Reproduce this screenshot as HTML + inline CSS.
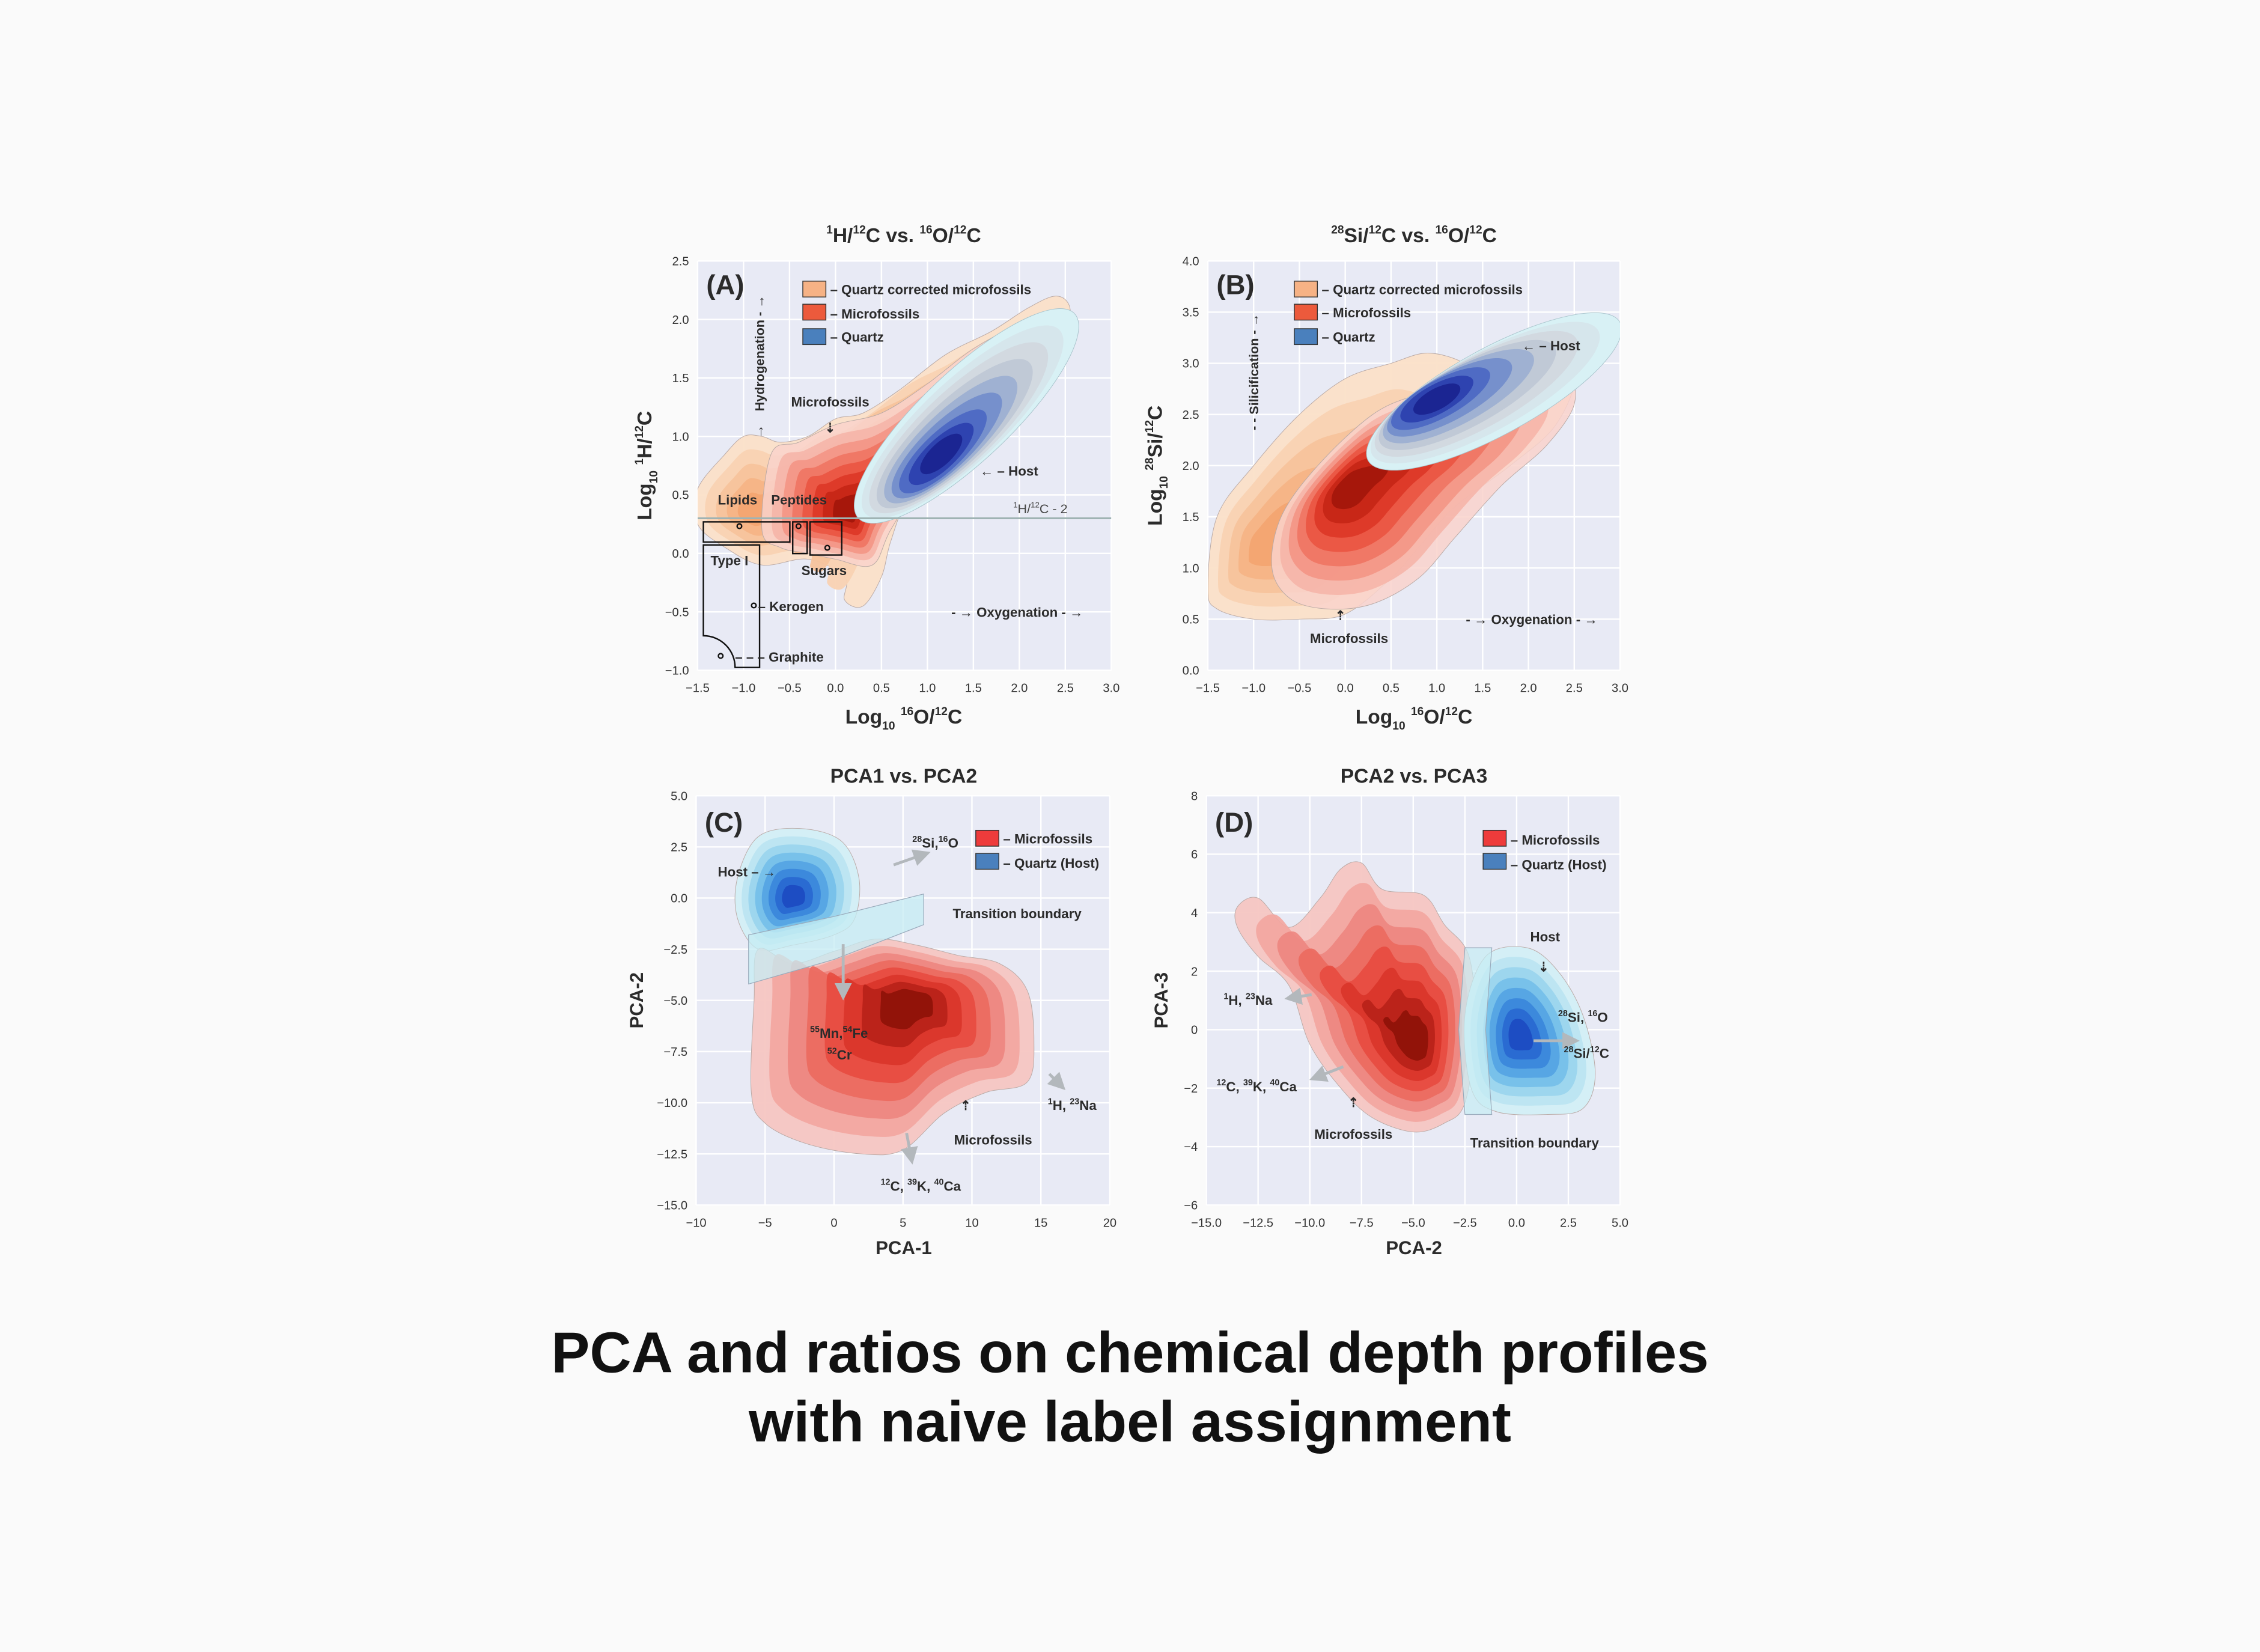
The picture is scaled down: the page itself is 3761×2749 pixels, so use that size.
<!DOCTYPE html>
<html><head><meta charset="utf-8">
<style>
html,body{margin:0;padding:0;background:#fafafa;}
svg{display:block;font-family:"Liberation Sans",Arial,sans-serif;}
.tk{font-size:8.4px;fill:#333;}
.b{font-weight:bold;fill:#2b2b2b;}
</style></head>
<body>
<svg id="fig" width="3761" height="2749" viewBox="0 0 1568 1146" xmlns="http://www.w3.org/2000/svg">
<defs><marker id="ah" markerWidth="6" markerHeight="6" refX="3" refY="3" orient="auto"><path d="M0,0 L6,3 L0,6 Z" fill="#b3b8bc"/></marker></defs>
<rect width="1568" height="1146" fill="#fafafa"/>
<g id="layer"></g>
<g id="annot"></g>
<text x="784" y="952" text-anchor="middle" style="font-size:40px;font-weight:bold;fill:#111">PCA and ratios on chemical depth profiles</text>
<text x="784" y="1000" text-anchor="middle" style="font-size:40px;font-weight:bold;fill:#111">with naive label assignment</text>
</svg>
<script>
// ---------- data ----------
const xTicksA = [-1.5,-1.0,-0.5,0.0,0.5,1.0,1.5,2.0,2.5,3.0];
const yTicksA = [-1.0,-0.5,0.0,0.5,1.0,1.5,2.0,2.5];
const xTicksB = [-1.5,-1.0,-0.5,0.0,0.5,1.0,1.5,2.0,2.5,3.0];
const yTicksB = [0.0,0.5,1.0,1.5,2.0,2.5,3.0,3.5,4.0];
const xTicksC = [-10,-5,0,5,10,15,20];
const yTicksC = [-15.0,-12.5,-10.0,-7.5,-5.0,-2.5,0.0,2.5,5.0];
const xTicksD = [-15.0,-12.5,-10.0,-7.5,-5.0,-2.5,0.0,2.5,5.0];
const yTicksD = [-6,-4,-2,0,2,4,6,8];

const aQcX = [-1.5,-1.2,-1.0,-0.8,-0.6,-0.3,0.0,0.3,0.7,1.2,1.7,2.1,2.4,2.55,2.5,2.1,1.6,1.2,0.8,0.6,0.5,0.3,0.1,0.1,-0.3,-0.8,-1.2,-1.5];
const aQcY = [0.55,0.85,1.0,1.0,0.95,1.0,1.15,1.2,1.4,1.7,1.9,2.1,2.2,2.1,1.85,1.6,1.3,0.9,0.5,0.1,-0.2,-0.45,-0.4,-0.2,-0.05,-0.1,0.05,0.25];
const aQcPeak = [-0.9,0.35];
const aMfX = [-0.8,-0.7,-0.4,0.0,0.5,1.0,1.5,2.0,2.3,2.2,1.6,1.0,0.6,0.4,0.0,-0.3,-0.6];
const aMfY = [0.2,0.85,0.95,1.1,1.2,1.45,1.75,1.95,1.95,1.7,1.3,0.7,0.2,-0.1,-0.05,0.0,0.05];
const aMfPeak = [0.15,0.35];
const aQzLow = [0.25,0.3], aQzHigh = [2.6,2.05], aQzPeak = [1.15,0.85];

const bQcX = [-1.5,-1.4,-1.0,-0.5,0.0,0.5,0.9,1.3,1.5,2.0,2.5,2.3,1.8,1.2,0.8,0.5,0.0,-0.5,-1.0,-1.4];
const bQcY = [0.8,1.5,2.0,2.5,2.85,3.0,3.1,3.0,2.8,2.85,2.9,2.4,2.0,1.6,1.2,0.9,0.55,0.5,0.5,0.6];
const bQcPeak = [-0.9,1.2];
const bMfX = [-0.8,-0.7,-0.3,0.3,0.8,1.2,1.8,2.4,2.5,2.2,1.7,1.2,0.8,0.3,-0.2,-0.6];
const bMfY = [1.0,1.5,2.0,2.5,2.7,2.8,2.9,2.9,2.6,2.2,1.8,1.3,0.9,0.65,0.6,0.7];
const bMfPeak = [0.0,1.8];
const bQzLow = [0.25,2.05], bQzHigh = [3.0,3.4], bQzPeak = [1.0,2.65];

const cHostX = [-7,-5.5,-2.5,0.5,1.8,1.5,0,-3,-5.5,-7];
const cHostY = [1.0,3.0,3.4,2.8,1.0,-1.0,-1.8,-2.3,-2.5,-1.0];
const cHostPeak = [-3,0];
const cMfX = [-5.5,-3,0,3,6,9,12,14,14.5,14,11,8,5,2,-2,-5,-6,-5.8];
const cMfY = [-2.5,-3.2,-2.6,-2.0,-2.3,-2.8,-3.2,-4.5,-7,-9,-9.5,-10.5,-12.3,-12.5,-12.0,-11,-9.5,-5];
const cMfPeak = [5.5,-5];
const cBandX = [-6.2,0,6.5,6.5,0,-6.2];
const cBandY = [-1.8,-0.9,0.2,-1.3,-3.0,-4.2];

const dMfX = [-13.5,-12.5,-11,-9.5,-8.5,-7.5,-6.5,-4.5,-3.5,-2.3,-2,-2.5,-3.5,-5,-7,-8.5,-10,-11,-12.5,-13.5];
const dMfY = [4.2,4.5,3.5,4.5,5.5,5.7,4.8,4.6,3.6,2.5,0,-2.5,-3.2,-3.5,-3,-2,-0.5,1.5,2.5,3.5];
const dMfPeak = [-4.8,-0.5];
const dHostX = [-2.5,-1.5,0.5,2,3.2,3.8,3.2,1.5,-1,-2.2];
const dHostY = [0.5,2.5,2.8,2,0.5,-1.5,-2.7,-2.9,-2.8,-2];
const dHostPeak = [0.1,-0.2];
const dBandX = [-2.5,-1.2,-1.5,-1.2,-2.5,-2.8];
const dBandY = [2.8,2.8,0,-2.9,-2.9,0];

const orangeLv = ['#fbe0c8','#f9d2b2','#f7c39c','#f5b486','#f3a571'];
const redLv = ['#f9d2cb','#f6b3a7','#f39383','#ef7260','#ea523f','#dc3524','#c42414','#a01509'];
const redDarkLv = ['#f5c4c0','#f2a6a0','#ee8780','#eb6a60','#e74c40','#d9352a','#b92219','#8e1208'];
const blueALv = ['#d8f1f5','#d6e6ec','#d2d9e0','#c0c9d6','#9fb1d2','#7690cc','#4f6bc4','#2e43b0','#1b2592'];
const blueCLv = ['#d4eff6','#bde5f2','#9dd6ee','#78c1ea','#57a6e4','#3c89dc','#2a6bd2','#1d4dc3'];

// ---------- helpers ----------
const NS='http://www.w3.org/2000/svg';
const layer=document.getElementById('layer');
function el(tag,attrs,parent){const e=document.createElementNS(NS,tag);for(const k in attrs)e.setAttribute(k,attrs[k]);(parent||layer).appendChild(e);return e;}
function mkAxes(x0,x1,y0,y1,xmin,xmax,ymin,ymax){
  return {sx:v=>x0+(v-xmin)/(xmax-xmin)*(x1-x0), sy:v=>y1-(v-ymin)/(ymax-ymin)*(y1-y0), x0,x1,y0,y1};
}
function smooth(pts){
  const n=pts.length;let d='M'+pts[0][0].toFixed(2)+','+pts[0][1].toFixed(2);
  for(let i=0;i<n;i++){const p0=pts[(i-1+n)%n],p1=pts[i],p2=pts[(i+1)%n],p3=pts[(i+2)%n];
    const c1=[p1[0]+(p2[0]-p0[0])/6,p1[1]+(p2[1]-p0[1])/6],c2=[p2[0]-(p3[0]-p1[0])/6,p2[1]-(p3[1]-p1[1])/6];
    d+='C'+c1[0].toFixed(2)+','+c1[1].toFixed(2)+' '+c2[0].toFixed(2)+','+c2[1].toFixed(2)+' '+p2[0].toFixed(2)+','+p2[1].toFixed(2);}
  return d+'Z';
}
function blob(ax,xs,ys,peak,cols,name,g,op){
  const n=cols.length;
  for(let i=0;i<n;i++){
    const s=1-i/n*0.93;
    const pts=xs.map((x,j)=>[ax.sx(peak[0]+(x-peak[0])*s),ax.sy(peak[1]+(ys[j]-peak[1])*s)]);
    const p=el('path',{d:smooth(pts),fill:cols[i],'fill-opacity':op||1,stroke:i==0?'#b9a9a5':'none','stroke-width':0.4},g);
    
    
  }
}
function ellBlob(ax,lo,hi,peak,cols,name,g,wr){
  const n=cols.length;
  const x1=ax.sx(lo[0]),y1=ax.sy(lo[1]),x2=ax.sx(hi[0]),y2=ax.sy(hi[1]);
  const px=ax.sx(peak[0]),py=ax.sy(peak[1]);
  const L=Math.hypot(x2-x1,y2-y1)/2, th=Math.atan2(y2-y1,x2-x1);
  const mx=(x1+x2)/2,my=(y1+y2)/2;
  for(let i=0;i<n;i++){
    const t=i/n, s=1-t*0.92;
    const cx=mx+(px-mx)*Math.min(1,t*1.4), cy=my+(py-my)*Math.min(1,t*1.4);
    const a=L*s, b=L*wr*(1-t*0.85);
    const pts=[];
    for(let k=0;k<28;k++){const u=k/28*Math.PI*2;const lx=a*Math.cos(u), ly=b*Math.sin(u);
      pts.push([cx+lx*Math.cos(th)-ly*Math.sin(th),cy+lx*Math.sin(th)+ly*Math.cos(th)]);}
    const p=el('path',{d:smooth(pts),fill:cols[i],stroke:i==0?'#a9c4cc':'none','stroke-width':0.4},g);
    
    
  }
}
function frame(ax,xt,yt,fmtX,fmtY,name){
  const g=el('g',{});
  
  
  el('rect',{x:ax.x0,y:ax.y0,width:ax.x1-ax.x0,height:ax.y1-ax.y0,fill:'#e8eaf5'},g);
  xt.forEach(v=>{const x=ax.sx(v);el('line',{x1:x,x2:x,y1:ax.y0,y2:ax.y1,stroke:'#fff','stroke-width':1},g);
    const t=el('text',{x:x,y:ax.y1+15,'text-anchor':'middle',class:'tk'},layer);t.textContent=fmtX(v);
    });
  yt.forEach(v=>{const y=ax.sy(v);el('line',{x1:ax.x0,x2:ax.x1,y1:y,y2:y,stroke:'#fff','stroke-width':1},g);
    const t=el('text',{x:ax.x0-6,y:y+3,'text-anchor':'end',class:'tk'},layer);t.textContent=fmtY(v);
    });
  const clip=el('clipPath',{id:'clip-'+name},layer);
  el('rect',{x:ax.x0,y:ax.y0,width:ax.x1-ax.x0,height:ax.y1-ax.y0},clip);
  const cg=el('g',{'clip-path':'url(#clip-'+name+')'});
  
  
  return cg;
}
const m=s=>s.replace('-','\u2212');
const f1=v=>m(v.toFixed(1)), f0=v=>m(String(v));

// ---------- panel A ----------
const A=mkAxes(484,771,181,465,-1.5,3.0,-1.0,2.5);
let g=frame(A,xTicksA,yTicksA,f1,f1,'panel-a');
blob(A,aQcX,aQcY,aQcPeak,orangeLv,'a-quartz-corrected',g,0.95);
blob(A,aMfX,aMfY,aMfPeak,redLv,'a-microfossils',g,0.85);
ellBlob(A,aQzLow,aQzHigh,aQzPeak,blueALv,'a-quartz',g,0.3);
let hl=el('line',{x1:A.x0,x2:A.x1,y1:A.sy(0.3),y2:A.sy(0.3),stroke:'#9fb3b3','stroke-width':1.3},g);


// ---------- panel B ----------
const B=mkAxes(838,1124,181,465,-1.5,3.0,0.0,4.0);
g=frame(B,xTicksB,yTicksB,f1,f1,'panel-b');
blob(B,bQcX,bQcY,bQcPeak,orangeLv,'b-quartz-corrected',g,0.95);
blob(B,bMfX,bMfY,bMfPeak,redLv,'b-microfossils',g,0.85);
ellBlob(B,bQzLow,bQzHigh,bQzPeak,blueALv,'b-quartz',g,0.3);

// ---------- panel C ----------
const C=mkAxes(483,770,552,836,-10,20,-15,5);
g=frame(C,xTicksC,yTicksC,f0,f1,'panel-c');
blob(C,cHostX,cHostY,cHostPeak,blueCLv,'c-host',g,1);
blob(C,cMfX,cMfY,cMfPeak,redDarkLv,'c-microfossils',g,0.92);
let band=el('polygon',{points:cBandX.map((x,i)=>C.sx(x)+','+C.sy(cBandY[i])).join(' '),fill:'#c6ecf3','fill-opacity':0.75,stroke:'#9ab','stroke-width':0.5},g);


// ---------- panel D ----------
const D=mkAxes(837,1124,552,836,-15,5,-6,8);
g=frame(D,xTicksD,yTicksD,f1,f0,'panel-d');
blob(D,dMfX,dMfY,dMfPeak,redDarkLv,'d-microfossils',g,0.92);
blob(D,dHostX,dHostY,dHostPeak,blueCLv,'d-host',g,1);
band=el('polygon',{points:dBandX.map((x,i)=>D.sx(x)+','+D.sy(dBandY[i])).join(' '),fill:'#c6ecf3','fill-opacity':0.7,stroke:'#9ab','stroke-width':0.5},g);

</script>
<script>
// ---------- static annotations ----------
const ann=document.getElementById('annot');
ann.innerHTML=`
<g>
<text class="b" x="627" y="168" text-anchor="middle" font-size="14"><tspan font-size="8" dy="-6">1</tspan><tspan dy="6">H/</tspan><tspan font-size="8" dy="-6">12</tspan><tspan dy="6">C vs. </tspan><tspan font-size="8" dy="-6">16</tspan><tspan dy="6">O/</tspan><tspan font-size="8" dy="-6">12</tspan><tspan dy="6">C</tspan></text>
<text class="b" x="490" y="204" font-size="19" fill="#111">(A)</text>
<text class="b" x="627" y="502" text-anchor="middle" font-size="14">Log<tspan font-size="8" dy="4">10</tspan><tspan dy="-4"> </tspan><tspan font-size="8" dy="-6">16</tspan><tspan dy="6">O/</tspan><tspan font-size="8" dy="-6">12</tspan><tspan dy="6">C</tspan></text>
<text class="b" transform="translate(452,323) rotate(-90)" text-anchor="middle" font-size="14">Log<tspan font-size="8" dy="4">10</tspan><tspan dy="-4"> </tspan><tspan font-size="8" dy="-6">1</tspan><tspan dy="6">H/</tspan><tspan font-size="8" dy="-6">12</tspan><tspan dy="6">C</tspan></text>
<text class="b" transform="translate(530,245) rotate(-90)" text-anchor="middle" font-size="9">Hydrogenation - →</text>
<text class="b" x="528" y="302" text-anchor="middle" font-size="10">↑</text>
<rect x="557" y="195" width="16" height="11" fill="#f6b285" stroke="#333" stroke-width="0.6"/><text class="b" x="576" y="204" font-size="9.3">– Quartz corrected microfossils</text>
<rect x="557" y="211" width="16" height="11" fill="#ec5a3c" stroke="#333" stroke-width="0.6"/><text class="b" x="576" y="221" font-size="9.3">– Microfossils</text>
<rect x="557" y="228" width="16" height="11" fill="#4a80bd" stroke="#333" stroke-width="0.6"/><text class="b" x="576" y="237" font-size="9.3">– Quartz</text>
<text class="b" x="576" y="282" text-anchor="middle" font-size="9.3">Microfossils</text>
<text class="b" x="576" y="300" text-anchor="middle" font-size="9">⇣</text>
<text class="b" x="680" y="330" font-size="9.3">← – Host</text>
<text x="703" y="356" font-size="9" fill="#444"><tspan font-size="5.5" dy="-4">1</tspan><tspan dy="4">H/</tspan><tspan font-size="5.5" dy="-4">12</tspan><tspan dy="4">C - 2</tspan></text>
<text class="b" x="498" y="350" font-size="9.3">Lipids</text><text class="b" x="535" y="350" font-size="9.3">Peptides</text>
<g fill="none" stroke="#111" stroke-width="1">
<rect x="488" y="362" width="60" height="14"/><rect x="550" y="362" width="10" height="22"/><rect x="562" y="362" width="22" height="23"/>
<path d="M488 378 H527 V463 H510 A22 22 0 0 0 488 441 Z"/>
</g>
<circle cx="513" cy="365" r="1.6" fill="none" stroke="#111"/><circle cx="554" cy="365" r="1.6" fill="none" stroke="#111"/><circle cx="574" cy="380" r="1.6" fill="none" stroke="#111"/>
<circle cx="523" cy="420" r="1.6" fill="none" stroke="#111"/><circle cx="500" cy="455" r="1.6" fill="none" stroke="#111"/>
<text class="b" x="493" y="392" font-size="9.3">Type I</text>
<text class="b" x="556" y="399" font-size="9.3">Sugars</text>
<text class="b" x="526" y="424" font-size="9.3">– Kerogen</text>
<text class="b" x="510" y="459" font-size="9.3">– – – Graphite</text>
<text class="b" x="660" y="428" font-size="9.3">- → Oxygenation - →</text>
</g>
<g>
<text class="b" x="981" y="168" text-anchor="middle" font-size="14"><tspan font-size="8" dy="-6">28</tspan><tspan dy="6">Si/</tspan><tspan font-size="8" dy="-6">12</tspan><tspan dy="6">C vs. </tspan><tspan font-size="8" dy="-6">16</tspan><tspan dy="6">O/</tspan><tspan font-size="8" dy="-6">12</tspan><tspan dy="6">C</tspan></text>
<text class="b" x="844" y="204" font-size="19" fill="#111">(B)</text>
<text class="b" x="981" y="502" text-anchor="middle" font-size="14">Log<tspan font-size="8" dy="4">10</tspan><tspan dy="-4"> </tspan><tspan font-size="8" dy="-6">16</tspan><tspan dy="6">O/</tspan><tspan font-size="8" dy="-6">12</tspan><tspan dy="6">C</tspan></text>
<text class="b" transform="translate(806,323) rotate(-90)" text-anchor="middle" font-size="14">Log<tspan font-size="8" dy="4">10</tspan><tspan dy="-4"> </tspan><tspan font-size="8" dy="-6">28</tspan><tspan dy="6">Si/</tspan><tspan font-size="8" dy="-6">12</tspan><tspan dy="6">C</tspan></text>
<text class="b" transform="translate(873,258) rotate(-90)" text-anchor="middle" font-size="9">- - Silicification - →</text>
<rect x="898" y="195" width="16" height="11" fill="#f6b285" stroke="#333" stroke-width="0.6"/><text class="b" x="917" y="204" font-size="9.3">– Quartz corrected microfossils</text>
<rect x="898" y="211" width="16" height="11" fill="#ec5a3c" stroke="#333" stroke-width="0.6"/><text class="b" x="917" y="220" font-size="9.3">– Microfossils</text>
<rect x="898" y="228" width="16" height="11" fill="#4a80bd" stroke="#333" stroke-width="0.6"/><text class="b" x="917" y="237" font-size="9.3">– Quartz</text>
<text class="b" x="1056" y="243" font-size="9.3">← – Host</text>
<text class="b" x="930" y="430" text-anchor="middle" font-size="9">⇡</text>
<text class="b" x="936" y="446" text-anchor="middle" font-size="9.3">Microfossils</text>
<text class="b" x="1017" y="433" font-size="9.3">- → Oxygenation - →</text>
</g>
<g>
<text class="b" x="627" y="543" text-anchor="middle" font-size="14">PCA1 vs. PCA2</text>
<text class="b" x="489" y="577" font-size="19" fill="#111">(C)</text>
<text class="b" x="627" y="870" text-anchor="middle" font-size="13">PCA-1</text>
<text class="b" transform="translate(446,694) rotate(-90)" text-anchor="middle" font-size="13">PCA-2</text>
<rect x="677" y="576" width="16" height="11" fill="#ee3b3b" stroke="#333" stroke-width="0.6"/><text class="b" x="696" y="585" font-size="9.3">– Microfossils</text>
<rect x="677" y="592" width="16" height="11" fill="#4a80bd" stroke="#333" stroke-width="0.6"/><text class="b" x="696" y="602" font-size="9.3">– Quartz (Host)</text>
<text class="b" x="498" y="608" font-size="9.3">Host – →</text>
<text class="b" x="633" y="588" font-size="9.3"><tspan font-size="6" dy="-4">28</tspan><tspan dy="4">Si,</tspan><tspan font-size="6" dy="-4">16</tspan><tspan dy="4">O</tspan></text>
<text class="b" x="661" y="637" font-size="9.3">Transition boundary</text>
<g stroke="#b3b8bc" stroke-width="2" fill="none" marker-end="url(#ah)"><path d="M620 600 L640 593"/><path d="M585 655 V688"/><path d="M728 745 L735 752"/><path d="M629 786 L632 802"/></g>
<text class="b" x="562" y="720" font-size="9.3"><tspan font-size="6" dy="-4">55</tspan><tspan dy="4">Mn,</tspan><tspan font-size="6" dy="-4">54</tspan><tspan dy="4">Fe</tspan></text>
<text class="b" x="574" y="735" font-size="9.3"><tspan font-size="6" dy="-4">52</tspan><tspan dy="4">Cr</tspan></text>
<text class="b" x="727" y="770" font-size="9.3"><tspan font-size="6" dy="-4">1</tspan><tspan dy="4">H, </tspan><tspan font-size="6" dy="-4">23</tspan><tspan dy="4">Na</tspan></text>
<text class="b" x="670" y="770" text-anchor="middle" font-size="9">⇡</text>
<text class="b" x="689" y="794" text-anchor="middle" font-size="9.3">Microfossils</text>
<text class="b" x="611" y="826" font-size="9.3"><tspan font-size="6" dy="-4">12</tspan><tspan dy="4">C, </tspan><tspan font-size="6" dy="-4">39</tspan><tspan dy="4">K, </tspan><tspan font-size="6" dy="-4">40</tspan><tspan dy="4">Ca</tspan></text>
</g>
<g>
<text class="b" x="981" y="543" text-anchor="middle" font-size="14">PCA2 vs. PCA3</text>
<text class="b" x="843" y="577" font-size="19" fill="#111">(D)</text>
<text class="b" x="981" y="870" text-anchor="middle" font-size="13">PCA-2</text>
<text class="b" transform="translate(810,694) rotate(-90)" text-anchor="middle" font-size="13">PCA-3</text>
<rect x="1029" y="576" width="16" height="11" fill="#ee3b3b" stroke="#333" stroke-width="0.6"/><text class="b" x="1048" y="586" font-size="9.3">– Microfossils</text>
<rect x="1029" y="592" width="16" height="11" fill="#4a80bd" stroke="#333" stroke-width="0.6"/><text class="b" x="1048" y="603" font-size="9.3">– Quartz (Host)</text>
<text class="b" x="1072" y="653" text-anchor="middle" font-size="9.3">Host</text>
<text class="b" x="1071" y="674" text-anchor="middle" font-size="9">⇣</text>
<g stroke="#b3b8bc" stroke-width="2" fill="none" marker-end="url(#ah)"><path d="M1064 722 L1090 722"/><path d="M910 690 L897 692"/><path d="M932 740 L914 747"/></g>
<text class="b" x="849" y="697" font-size="9.3"><tspan font-size="6" dy="-4">1</tspan><tspan dy="4">H, </tspan><tspan font-size="6" dy="-4">23</tspan><tspan dy="4">Na</tspan></text>
<text class="b" x="844" y="757" font-size="9.3"><tspan font-size="6" dy="-4">12</tspan><tspan dy="4">C, </tspan><tspan font-size="6" dy="-4">39</tspan><tspan dy="4">K, </tspan><tspan font-size="6" dy="-4">40</tspan><tspan dy="4">Ca</tspan></text>
<text class="b" x="1081" y="709" font-size="9.3"><tspan font-size="6" dy="-4">28</tspan><tspan dy="4">Si, </tspan><tspan font-size="6" dy="-4">16</tspan><tspan dy="4">O</tspan></text>
<text class="b" x="1085" y="734" font-size="9.3"><tspan font-size="6" dy="-4">28</tspan><tspan dy="4">Si/</tspan><tspan font-size="6" dy="-4">12</tspan><tspan dy="4">C</tspan></text>
<text class="b" x="939" y="768" text-anchor="middle" font-size="9">⇡</text>
<text class="b" x="939" y="790" text-anchor="middle" font-size="9.3">Microfossils</text>
<text class="b" x="1020" y="796" font-size="9.3">Transition boundary</text>
</g>`;
</script>
</body></html>
